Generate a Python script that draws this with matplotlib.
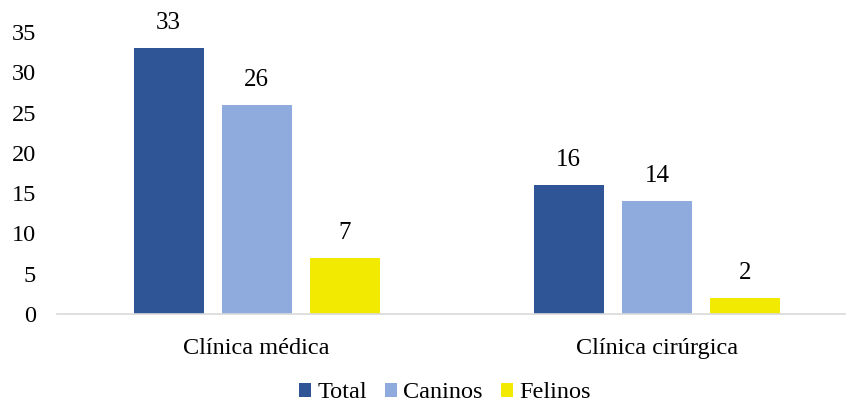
import numpy as np
from matplotlib import pyplot as plt

categories = ['Clínica médica', 'Clínica cirúrgica']
series_names = ['Total', 'Caninos', 'Felinos']
total = [33, 16]
caninos = [26, 14]
felinos = [7, 2]

colors = ['#2F5597', '#8FAADC', '#F2EA00']

plt.rcParams['font.family'] = ['Liberation Serif', 'DejaVu Serif']

fig = plt.figure(figsize=(8.46, 4.05), dpi=100)
ax = fig.add_axes([57 / 846, 1 - 314 / 405, (845 - 57) / 846, (314 - 32) / 405])

x = np.arange(len(categories))
width = 0.175
offsets = [-0.22, 0, 0.22]

for vals, name, col, off in zip([total, caninos, felinos], series_names, colors, offsets):
    bars = ax.bar(x + off, vals, width, color=col, label=name)
    ax.bar_label(bars, padding=10, fontsize=18)

ax.set_xlim(-0.4988, 1.47)
ax.set_ylim(0, 35)
ax.set_yticks(range(0, 36, 5))
ax.set_xticks(x)
ax.set_xticklabels(categories)
ax.tick_params(axis='both', length=0, labelsize=17.5)
ax.tick_params(axis='x', pad=17)
ax.tick_params(axis='y', pad=15)

for s in ['top', 'right', 'left']:
    ax.spines[s].set_visible(False)
ax.spines['bottom'].set_color('#D9D9D9')
ax.spines['bottom'].set_linewidth(1.2)

fig.legend(loc='center', bbox_to_anchor=(0.526, 1 - 393 / 405), ncol=3, frameon=False,
           fontsize=17.5, handlelength=0.5, handleheight=0.5, handletextpad=0.25, columnspacing=0.75)

plt.savefig('out.png', dpi=100)
